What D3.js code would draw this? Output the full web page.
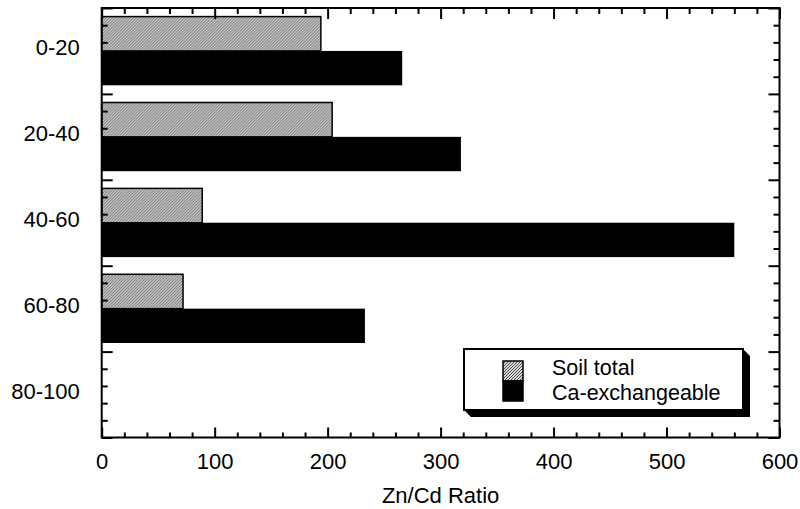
<!DOCTYPE html>
<html>
<head>
<meta charset="utf-8">
<script src="https://cdn.jsdelivr.net/npm/d3@7"></script>
<style>
  body { margin: 0; background: #fff; }
  text { font-family: "Liberation Sans", Arial, sans-serif; fill: #000; }
</style>
</head>
<body>
<div id="chart"></div>
<script>
// Data
var depths = ["0-20", "20-40", "40-60", "60-80", "80-100"];
var seriesNames = ["Soil total", "Ca-exchangeable"];
var soilTotal = [194, 204, 89, 72, null];
var caExchangeable = [266, 318, 560, 233, null];
var xTicks = [0, 100, 200, 300, 400, 500, 600];

var svgWidth = 800;
var svgHeight = 509;

var margin = { top: 8, right: 20.5, bottom: 71.5, left: 101.7 };
var width = svgWidth - margin.left - margin.right;
var height = svgHeight - margin.top - margin.bottom;

var svg = d3.select("#chart")
    .append("svg")
    .attr("width", svgWidth)
    .attr("height", svgHeight);

// hatch pattern for the soil total bars
var defs = svg.append("defs");
var pat = defs.append("pattern")
    .attr("id", "hatch")
    .attr("patternUnits", "userSpaceOnUse")
    .attr("width", 3)
    .attr("height", 3);
pat.append("rect").attr("width", 3).attr("height", 3).attr("fill", "#d8d8d8");
pat.append("path")
    .attr("d", "M-1,1 l2,-2 M0,3 l3,-3 M2,4 l2,-2")
    .attr("stroke", "#4a4a4a")
    .attr("stroke-width", 1);

var chartGroup = svg.append("g")
    .attr("transform", `translate(${margin.left}, ${margin.top})`);

var x = d3.scaleLinear().domain([0, 600]).range([0, width]);
var depthScale = d3.scaleLinear().domain([0, 100]).range([0, height]);

var y0 = d3.scaleBand()
    .domain(depths)
    .range([0, height])
    .paddingInner(0.2)
    .paddingOuter(0.1);

var y1 = d3.scaleBand()
    .domain(seriesNames)
    .range([0, y0.bandwidth()]);

var rows = depths.map(function(d, i) {
    return { depth: d, values: [soilTotal[i], caExchangeable[i]] };
});

// bars
var groups = chartGroup.selectAll(".grp")
    .data(rows)
    .enter()
    .append("g")
    .attr("transform", d => `translate(0, ${y0(d.depth)})`);

groups.selectAll("rect")
    .data(d => d.values.map((v, j) => ({ name: seriesNames[j], value: v })).filter(e => e.value != null))
    .enter()
    .append("rect")
    .attr("x", 0)
    .attr("y", d => y1(d.name))
    .attr("width", d => x(d.value))
    .attr("height", y1.bandwidth())
    .attr("fill", d => d.name === "Soil total" ? "url(#hatch)" : "#000")
    .attr("stroke", "#000")
    .attr("stroke-width", d => d.name === "Soil total" ? 1.5 : 0);

// x axes, ticks inward
var minorX = d3.range(0, 601, 20).filter(v => v % 100 !== 0);

chartGroup.append("g")
    .attr("transform", `translate(0, ${height})`)
    .call(d3.axisBottom(x).tickValues(xTicks).tickSize(-10).tickPadding(16))
    .call(g => g.select(".domain").remove())
    .call(g => g.selectAll("text").style("font-size", "22px"));
chartGroup.append("g")
    .attr("transform", `translate(0, ${height})`)
    .call(d3.axisBottom(x).tickValues(minorX).tickSize(-5).tickFormat(""))
    .call(g => g.select(".domain").remove());
chartGroup.append("g")
    .call(d3.axisTop(x).tickValues(xTicks).tickSize(-11).tickFormat(""))
    .call(g => g.select(".domain").remove());
chartGroup.append("g")
    .call(d3.axisTop(x).tickValues(minorX).tickSize(-6).tickFormat(""))
    .call(g => g.select(".domain").remove());

// y axes (depth), ticks inward
var majorY = d3.range(0, 101, 20);
var minorY = d3.range(0, 101, 4).filter(v => v % 20 !== 0);

[[d3.axisLeft, 0], [d3.axisRight, width]].forEach(function(a) {
    chartGroup.append("g")
        .attr("transform", `translate(${a[1]}, 0)`)
        .call(a[0](depthScale).tickValues(majorY).tickSize(-11).tickFormat(""))
        .call(g => g.select(".domain").remove());
    chartGroup.append("g")
        .attr("transform", `translate(${a[1]}, 0)`)
        .call(a[0](depthScale).tickValues(minorY).tickSize(-6).tickFormat(""))
        .call(g => g.select(".domain").remove());
});

chartGroup.selectAll(".tick line").attr("stroke", "#000").attr("stroke-width", 2);

// category labels
chartGroup.selectAll(".ylab")
    .data(depths)
    .enter()
    .append("text")
    .attr("x", -22)
    .attr("y", d => y0(d) + y0.bandwidth() / 2 + 4.5)
    .attr("text-anchor", "end")
    .style("font-size", "22px")
    .text(d => d);

// frame
chartGroup.append("rect")
    .attr("width", width)
    .attr("height", height)
    .attr("fill", "none")
    .attr("stroke", "#000")
    .attr("stroke-width", 2);

// x title
svg.append("text")
    .attr("x", margin.left + width / 2)
    .attr("y", 503)
    .attr("text-anchor", "middle")
    .style("font-size", "22px")
    .text("Zn/Cd Ratio");

// legend with bevelled shadow
var lx0 = 464, ly0 = 349, lx1 = 743, ly1 = 410, sh = 7;
var legend = svg.append("g");
legend.append("polygon")
    .attr("points", [[lx1, ly0], [lx1 + sh, ly0 + sh], [lx1 + sh, ly1 + sh], [lx0 + sh, ly1 + sh], [lx0, ly1]].join(" "))
    .attr("fill", "#000");
legend.append("rect")
    .attr("x", lx0).attr("y", ly0)
    .attr("width", lx1 - lx0).attr("height", ly1 - ly0)
    .attr("fill", "#fff")
    .attr("stroke", "#000")
    .attr("stroke-width", 2);

legend.selectAll(".swatch")
    .data(seriesNames)
    .enter()
    .append("rect")
    .attr("x", 503)
    .attr("y", (d, i) => 361 + i * 20)
    .attr("width", 20)
    .attr("height", 20)
    .attr("fill", (d, i) => i === 0 ? "url(#hatch)" : "#000")
    .attr("stroke", "#000")
    .attr("stroke-width", 1.5);

legend.selectAll(".ltext")
    .data(seriesNames)
    .enter()
    .append("text")
    .attr("x", 552)
    .attr("y", (d, i) => 375 + i * 24.5)
    .style("font-size", "21.5px")
    .text(d => d);
</script>
</body>
</html>
